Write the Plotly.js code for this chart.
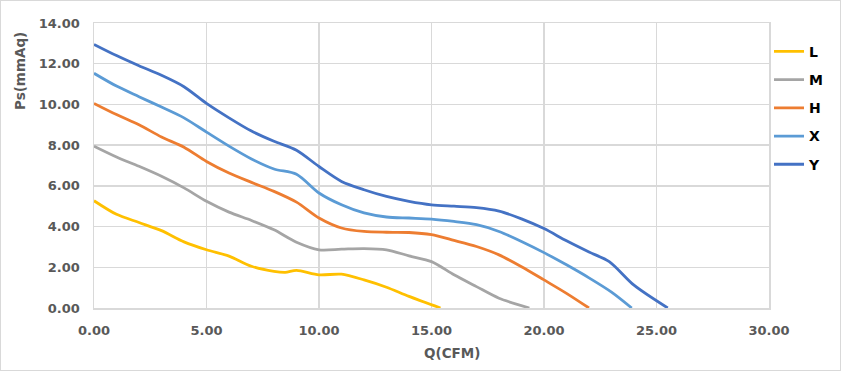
<!DOCTYPE html>
<html>
<head>
<meta charset="utf-8">
<script src="https://cdn.plot.ly/plotly-3.0.1.min.js"></script>
<style>
html,body{margin:0;padding:0;background:#fff;}
#wrap{position:relative;width:841px;height:371px;}
#chart{width:841px;height:371px;}
#frame{position:absolute;left:0;top:0;width:839px;height:369px;border:1px solid #d9d9d9;pointer-events:none;}
</style>
</head>
<body>
<div id="wrap"><div id="chart"></div><div id="frame"></div></div>
<script>
var seriesNames = ["L", "M", "H", "X", "Y"];
var seriesColors = ["#FFC000", "#A5A5A5", "#ED7D31", "#5B9BD5", "#4472C4"];

var qL = [0,1,2,3,4,5,6,7,8,8.5,9,10,11,12,13,14,15.4];
var psL = [5.27,4.6,4.2,3.8,3.25,2.86,2.55,2.05,1.8,1.75,1.85,1.63,1.66,1.38,1.02,0.57,0];

var qM = [0,1,2,3,4,5,6,7,8,9,10,11,12,13,14,15,16,17,18,19.35];
var psM = [7.95,7.42,6.96,6.47,5.9,5.24,4.71,4.3,3.84,3.23,2.86,2.89,2.92,2.86,2.56,2.28,1.63,1.05,0.48,0];

var qH = [0,1,2,3,4,5,6,7,8,9,10,11,12,13,14,15,16,17,18,19,20,21,22];
var psH = [10.05,9.5,9.0,8.4,7.9,7.2,6.63,6.17,5.73,5.2,4.42,3.93,3.76,3.72,3.71,3.6,3.32,3.02,2.61,2.03,1.38,0.72,0];

var qX = [0,1,2,3,4,5,6,7,8,9,10,11,12,13,14,15,16,17,18,19,20,21,22,23,23.9];
var psX = [11.53,10.9,10.38,9.87,9.34,8.64,7.95,7.32,6.83,6.57,5.65,5.07,4.67,4.47,4.42,4.37,4.25,4.09,3.76,3.27,2.72,2.12,1.48,0.78,0];

var qY = [0,1,2,3,4,5,6,7,8,9,10,11,12,13,14,15,16,17,18,19,20,21,22,22.9,24,25.5];
var psY = [12.95,12.4,11.9,11.43,10.87,10.05,9.34,8.69,8.19,7.75,6.95,6.22,5.81,5.48,5.24,5.07,5.0,4.93,4.76,4.38,3.9,3.3,2.75,2.28,1.12,0];

var xTitle = "Q(CFM)";
var yTitle = "Ps(mmAq)";

var qs = [qL, qM, qH, qX, qY];
var ps = [psL, psM, psH, psX, psY];

var tickFont = {family: "DejaVu Sans", size: 13, color: "#595959", weight: "bold"};

var traces = seriesNames.map(function(n, i){
  return {
    type: "scatter", mode: "lines", name: n,
    x: qs[i], y: ps[i],
    legendgroup: n,
    line: {color: seriesColors[i], width: 2.8, shape: "spline", smoothing: 0.8}
  };
});

var layout = {
  width: 841, height: 371,
  margin: {l: 94, r: 72, t: 23, b: 63},
  paper_bgcolor: "#ffffff", plot_bgcolor: "#ffffff",
  showlegend: true,
  legend: {
    x: 1.0, xanchor: "left", y: 0.955, yanchor: "top",
    font: {family: "DejaVu Sans", size: 14, color: "#000000", weight: "bold"},
    tracegroupgap: 7,
    bgcolor: "rgba(0,0,0,0)"
  },
  xaxis: {
    range: [0, 30], dtick: 5, tick0: 0, tickformat: ".2f",
    showgrid: true, gridcolor: "#d9d9d9", gridwidth: 1.5,
    showline: true, linecolor: "#d9d9d9", linewidth: 1.5, mirror: true,
    zeroline: false, ticks: "", ticklabelstandoff: 10,
    tickfont: tickFont, fixedrange: true
  },
  yaxis: {
    range: [0, 14], dtick: 2, tick0: 0, tickformat: ".2f",
    showgrid: true, gridcolor: "#d9d9d9", gridwidth: 1.5,
    showline: true, linecolor: "#d9d9d9", linewidth: 1.5, mirror: true,
    zeroline: false, ticks: "", ticklabelstandoff: 10,
    tickfont: tickFont, fixedrange: true
  },
  annotations: [
    {text: yTitle, xref: "paper", yref: "paper", x: -0.1096, y: 0.8316,
     xanchor: "center", yanchor: "middle", textangle: -90, showarrow: false,
     font: {family: "DejaVu Sans", size: 13.5, color: "#595959", weight: "bold"}},
    {text: xTitle, xref: "paper", yref: "paper", x: 0.53, y: -0.158,
     xanchor: "center", yanchor: "middle", showarrow: false,
     font: {family: "DejaVu Sans", size: 13.5, color: "#595959", weight: "bold"}}
  ]
};

Plotly.newPlot("chart", traces, layout, {displayModeBar: false, staticPlot: true});
</script>
</body>
</html>
